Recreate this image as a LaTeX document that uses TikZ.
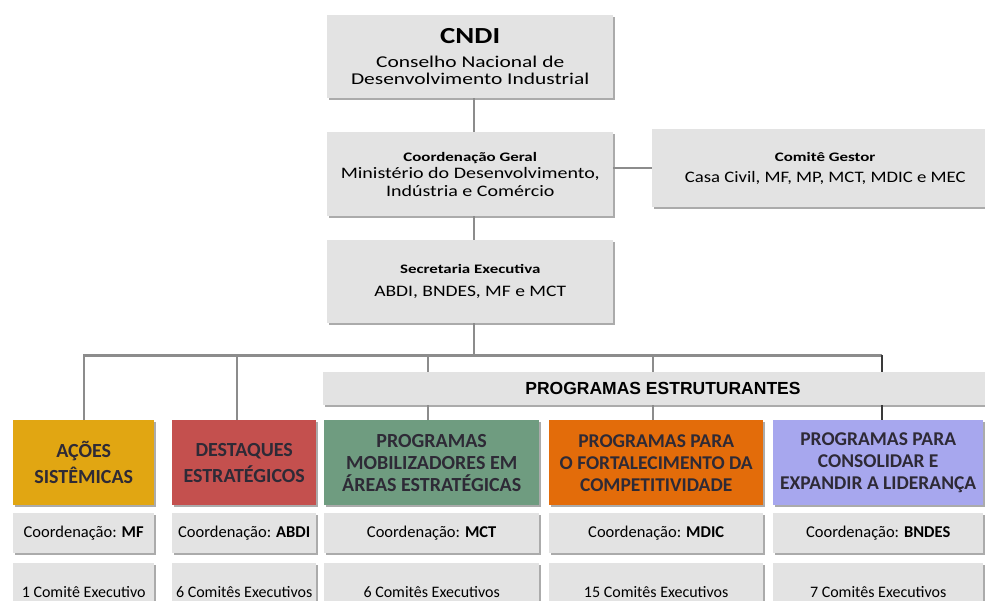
\documentclass[tikz,border=0pt]{standalone}
\usepackage{graphicx}
\usepackage{fontspec}
\setmainfont{Carlito}
\newfontfamily\arialfont{Liberation Sans}
\makeatletter
\ifx\tikzscope@linewidth\undefined\gdef\tikzscope@linewidth{0.4pt}\fi
\makeatother
\definecolor{boxgray}{HTML}{E3E3E3}
\definecolor{shadowgray}{HTML}{ABABAB}
\definecolor{linegray}{HTML}{8C8C8C}
\definecolor{darkline}{HTML}{3A3A3A}
\definecolor{textdark}{HTML}{2E2A36}
\definecolor{cgold}{HTML}{E1A612}
\definecolor{cred}{HTML}{C4504E}
\definecolor{cgreen}{HTML}{6F9C80}
\definecolor{corange}{HTML}{E36C0A}
\definecolor{clav}{HTML}{A7A7EE}
\newcommand{\myfs}[2]{\fontsize{#1}{#2}\selectfont}
\newcommand{\wide}[2]{\scalebox{#1}[1]{#2}}
% #1 name, #2 style, #3 position x,y, #4 width, #5 height, #6 text
\newcommand{\boxat}[6]{%
  \node[shadowbox, minimum width=#4, minimum height=#5] (#1-sh) at ([xshift=1.5pt,yshift=-2pt]#3) {};
  \node[#2, minimum width=#4, minimum height=#5] (#1) at (#3) {#6};}
\tikzset{
  shadowbox/.style={fill=shadowgray, inner sep=0pt, anchor=north west},
  gbox/.style={fill=boxgray, inner sep=0pt, align=center, anchor=north west},
  cbox/.style={gbox, text=textdark, font=\bfseries\myfs{20}{22}},
  rowbox/.style={gbox, font=\myfs{16.5}{18}},
  comrow/.style={gbox, font=\myfs{16}{18}},
  conn/.style={draw=linegray, line width=2.3pt},
  darkconn/.style={draw=darkline, line width=1.8pt}
}
\begin{document}
\begin{tikzpicture}[x=1pt,y=-1pt]
\useasboundingbox (0,0) rectangle (985,601);
\fill[white] (0,0) rectangle (985,601);

% top column
\boxat{cndi}{gbox, font=\myfs{16.5}{17}}{327,15}{286pt}{83pt}
  {\wide{1.25}{\bfseries\myfs{23}{23}CNDI}\\[7pt]\wide{1.3}{Conselho Nacional de}\\\wide{1.3}{Desenvolvimento Industrial}}
\boxat{coord}{gbox, font=\myfs{16}{17.5}}{327,132}{286pt}{84pt}
  {\wide{1.3}{\bfseries\myfs{13}{13}Coordenação Geral}\\\wide{1.25}{Ministério do Desenvolvimento,}\\\wide{1.25}{Indústria e Comércio}}
\boxat{sec}{gbox, font=\myfs{16}{17}}{327,240}{286pt}{83pt}
  {\wide{1.3}{\bfseries\myfs{13}{13}Secretaria Executiva}\\[6pt]\wide{1.22}{ABDI, BNDES, MF e MCT}}
\boxat{gestor}{gbox, font=\myfs{16}{17}}{652,129}{346pt}{78pt}
  {\wide{1.3}{\bfseries\myfs{13}{13}Comitê Gestor}\\[4pt]\wide{1.17}{Casa Civil,\ MF, MP, MCT,\ MDIC e MEC}}

% programas estruturantes
\boxat{prog}{gbox}{323,372}{680pt}{33pt}{}
\node[font=\arialfont\bfseries\myfs{17.5}{18}] (progtxt) at (663,388.5) {PROGRAMAS ESTRUTURANTES};

% colored boxes
\boxat{acoes}{cbox, fill=cgold}{13,420}{141pt}{85pt}{AÇÕES\\[4pt]SISTÊMICAS}
\boxat{dest}{cbox, fill=cred}{172,420}{144pt}{85pt}{DESTAQUES\\[4pt]ESTRATÉGICOS}
\boxat{mob}{cbox, fill=cgreen}{324,420}{215pt}{85pt}{PROGRAMAS\\MOBILIZADORES EM\\ÁREAS ESTRATÉGICAS}
\boxat{fort}{cbox, fill=corange, font=\bfseries\myfs{19.5}{22}}{549,420}{214pt}{85pt}{PROGRAMAS PARA\\O FORTALECIMENTO DA\\COMPETITIVIDADE}
\boxat{cons}{cbox, fill=clav, font=\bfseries\myfs{19.5}{22}}{773,420}{210pt}{85pt}{PROGRAMAS PARA\\CONSOLIDAR E\\EXPANDIR A LIDERANÇA}

% coordination rows
\boxat{c1}{rowbox}{13,513}{141pt}{40pt}{Coordenação: \textbf{MF}}
\boxat{c2}{rowbox}{172,513}{144pt}{40pt}{Coordenação: \textbf{ABDI}}
\boxat{c3}{rowbox}{324,513}{215pt}{40pt}{Coordenação: \textbf{MCT}}
\boxat{c4}{rowbox}{549,513}{214pt}{40pt}{Coordenação: \textbf{MDIC}}
\boxat{c5}{rowbox}{773,513}{210pt}{40pt}{Coordenação: \textbf{BNDES}}

% committee rows (run past the lower edge, as in the reference)
\boxat{e1}{comrow}{13,563}{141pt}{58pt}{1 Comitê Executivo}
\boxat{e2}{comrow}{172,563}{144pt}{58pt}{6 Comitês Executivos}
\boxat{e3}{comrow}{324,563}{215pt}{58pt}{6 Comitês Executivos}
\boxat{e4}{comrow}{549,563}{214pt}{58pt}{15 Comitês Executivos}
\boxat{e5}{comrow}{773,563}{210pt}{58pt}{7 Comitês Executivos}

% connectors
\coordinate (bus) at ([xshift=4pt,yshift=-32pt]sec.south);
\draw[conn] ([xshift=4pt]cndi.south) -- ([xshift=4pt]coord.north);
\draw[conn] ([xshift=4pt]coord.south) -- ([xshift=4pt]sec.north);
\draw[conn] ([yshift=6pt]coord.east) -- ([yshift=6pt]coord.east -| gestor.west);
\draw[conn] ([xshift=4pt]sec.south) -- (bus);
\draw[conn] (acoes.north) -- (acoes.north |- bus) -- ([xshift=4pt]cons.north |- bus);
\draw[darkconn] ([xshift=4pt]cons.north |- bus) -- ([xshift=4pt]cons.north |- prog.north);
\draw[conn] ([xshift=-7pt]dest.north) -- ([xshift=-7pt]dest.north |- bus);
\draw[conn] ([xshift=-3.5pt]mob.north |- bus) -- ([xshift=-3.5pt]mob.north |- prog.north);
\draw[conn] ([xshift=-3pt]fort.north |- bus) -- ([xshift=-3pt]fort.north |- prog.north);
\draw[conn] ([xshift=-3.5pt]mob.north |- prog.south) -- ([xshift=-3.5pt]mob.north);
\draw[conn] ([xshift=-3pt]fort.north |- prog.south) -- ([xshift=-3pt]fort.north);
\draw[darkconn] ([xshift=4pt]cons.north |- prog.south) -- ([xshift=4pt]cons.north);
\end{tikzpicture}
\end{document}
